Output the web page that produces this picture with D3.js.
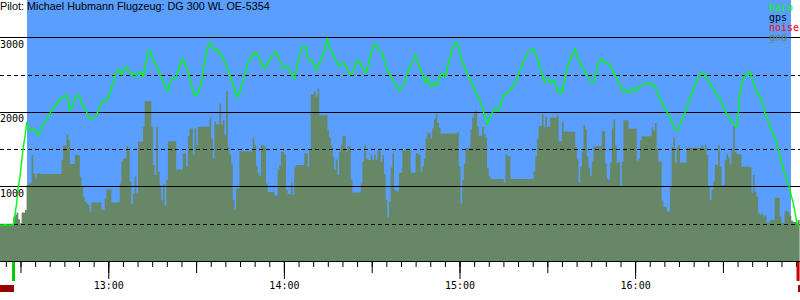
<!DOCTYPE html>
<html>
<head>
<meta charset="utf-8">
<script src="https://cdn.jsdelivr.net/npm/d3@7"></script>
<style>
  body { margin: 0; background: #fff; }
  svg { display: block; }
</style>
</head>
<body>
<div id="chart"></div>
<script>
// time window of the picture and of the flight
const viewStart = "12:23:00", viewEnd = "16:56:20";
const flightStart = "12:32:14", flightEnd = "16:53:16";
const sampleStep = 34.08; // seconds between logger samples, first sample at viewStart

const title = "Pilot: Michael Hubmann Flugzeug: DG 300 WL OE-5354";

// barometric altitude (m)
const baro = [
  482,482,482,482,482,482,482,482,490,616,772,996,1129,1330,1531,1665,1844,1800,1750,1760,
  1777,1754,1710,1687,1732,1799,1821,1866,1897,1933,1969,2022,2053,2076,2089,2134,2178,2187,2201,2210,
  2230,2150,2022,2044,2103,2165,2214,2223,2201,2120,2075,2036,2009,1933,1911,1897,1911,1933,1964,2013,
  2067,2120,2147,2169,2156,2187,2245,2326,2379,2469,2536,2567,2558,2500,2536,2580,2603,2567,2536,2513,
  2491,2513,2478,2522,2527,2536,2478,2558,2692,2803,2826,2772,2701,2669,2625,2580,2513,2469,2402,2379,
  2312,2281,2357,2433,2446,2446,2469,2536,2625,2669,2714,2647,2603,2536,2469,2366,2299,2223,2214,2245,
  2312,2379,2513,2669,2781,2870,2930,2890,2870,2817,2826,2835,2790,2759,2728,2669,2625,2567,2504,2446,
  2379,2312,2223,2201,2268,2312,2402,2469,2558,2638,2701,2736,2772,2759,2790,2772,2714,2669,2625,2580,
  2603,2647,2692,2736,2759,2781,2803,2759,2701,2656,2611,2580,2594,2611,2567,2522,2478,2446,2536,2647,
  2759,2826,2870,2861,2870,2736,2692,2701,2669,2634,2558,2594,2647,2692,2736,2826,2915,2970,2880,2820,
  2790,2750,2690,2640,2615,2635,2650,2660,2615,2570,2520,2500,2520,2575,2640,2685,2680,2640,2590,2545,
  2525,2570,2680,2770,2840,2895,2915,2860,2815,2803,2790,2700,2620,2560,2520,2475,2440,2395,2370,2330,
  2290,2312,2335,2370,2424,2522,2580,2603,2669,2728,2759,2669,2611,2580,2513,2446,2388,2455,2424,2344,
  2335,2388,2379,2357,2446,2491,2522,2478,2478,2580,2692,2745,2848,2879,2915,2937,2848,2759,2669,2625,
  2567,2513,2469,2433,2379,2312,2268,2223,2201,2134,2067,1987,1911,1835,1888,1942,1987,2022,2044,2030,
  2013,2089,2165,2223,2245,2250,2268,2299,2326,2357,2388,2446,2513,2567,2625,2683,2736,2781,2803,2826,
  2835,2848,2803,2736,2669,2580,2513,2424,2402,2446,2446,2388,2402,2424,2402,2290,2268,2290,2254,2357,
  2469,2558,2647,2714,2759,2781,2835,2759,2692,2656,2611,2567,2513,2491,2469,2433,2402,2402,2469,2580,
  2656,2692,2714,2669,2647,2656,2647,2625,2580,2522,2491,2460,2402,2357,2299,2281,2299,2277,2254,2290,
  2312,2299,2268,2290,2326,2344,2357,2370,2379,2388,2370,2379,2370,2379,2335,2290,2223,2178,2134,2089,
  2044,2000,1969,1924,1879,1821,1777,1754,1763,1821,1897,1942,1987,2044,2120,2178,2236,2290,2357,2415,
  2460,2491,2513,2522,2491,2446,2424,2388,2335,2312,2268,2254,2210,2178,2134,2076,2013,1978,1942,1911,
  1879,1844,1808,1799,1978,2223,2357,2446,2478,2504,2522,2536,2469,2402,2348,2268,2236,2210,2156,2089,
  1987,1942,1888,1808,1745,1701,1674,1598,1509,1420,1330,1241,1174,1107,1040,973,870,795,683,549,
  482,482
];

// ground elevation under the track (m)
const gnd = [
  500,500,500,500,500,500,500,500,595,620,650,560,505,650,650,683,1018,1040,1040,1420,
  1174,1110,1174,1174,1165,1165,1165,1165,1165,1165,1165,1165,1165,1165,1165,1165,1165,1353,1545,1545,
  1696,1620,1300,1300,1300,1420,1420,1420,1130,995,860,795,770,750,660,786,786,786,786,786,
  786,683,683,840,960,960,960,786,786,786,786,786,1040,1330,1375,1375,1540,1509,1062,763,
  906,1129,906,1598,1598,1598,1799,2147,2147,2147,2147,1799,1286,1152,1799,1196,1018,817,1031,741,
  1085,1607,1607,1607,1607,1607,1228,1228,1228,1228,1442,1442,1263,1674,1777,1777,1433,1777,1553,1799,
  1799,1799,1799,1799,1799,1799,1924,1643,1375,1866,1835,1835,2111,1830,1888,1687,2277,1531,1433,1308,
  817,683,973,973,1473,1473,1473,1473,1473,1473,1473,1473,1652,1553,1272,1183,1138,1553,1553,1531,
  1040,924,924,924,924,875,875,1219,1286,1464,1464,1420,951,900,900,1053,884,1254,1286,1286,
  1286,1286,1286,1442,1442,1263,1500,2236,2236,2277,2201,2312,1955,1955,1955,1955,1955,1754,1656,1553,
  1397,1219,1361,1152,1464,1553,1674,1674,1464,1540,1540,1094,920,920,920,920,920,1040,1330,1553,
  1375,1353,1353,1420,1353,1420,1353,1478,1478,1330,1420,1165,817,580,795,1254,1442,960,937,937,
  1183,1183,1486,1486,1486,1486,1486,1183,1183,1183,1442,1442,1420,1196,1272,1375,1643,1718,1718,1643,
  1777,1897,1969,1852,1790,1710,1710,1710,1710,1710,1710,1710,1710,1710,1710,1732,1272,772,1085,1308,
  1515,1515,1515,1763,1924,1978,2022,1799,1680,1680,1799,1701,1656,1241,1138,1098,1098,1098,1098,1098,
  1098,1098,1098,1049,1433,1406,1406,1098,1098,1098,1098,1098,1098,1098,1098,1098,1098,1098,1098,1098,
  1098,1200,1406,1634,1812,1812,1969,1790,1933,1799,1799,1924,1924,1924,1924,1955,1607,1607,1875,1732,
  1732,1732,1732,1732,1732,1732,1531,1361,1049,1263,1464,1821,1763,1400,1250,1143,1330,1540,1540,1540,
  1540,1540,1741,1741,1308,1107,1085,1317,1777,1902,1553,1321,1321,1004,1330,1888,1888,1888,1777,1777,
  1777,1777,1777,1344,1375,1620,1674,1674,1674,1674,1674,1674,1790,1754,1852,1509,1330,1330,808,728,
  728,661,661,996,1531,1656,1317,1522,1553,1317,1317,1317,1317,1518,1518,1518,1518,1518,1518,1518,
  1518,1518,1553,1509,1562,1420,996,817,960,1062,1286,1286,1553,1263,1018,1018,1353,1433,1384,1299,
  1486,1808,1464,1433,1433,1433,1263,1263,1263,1263,1263,1263,915,1152,928,862,647,616,640,594,
  616,513,513,549,549,549,848,848,848,594,513,513,670,670,647,603,540,527,527,513,
  549,549
];

const solidTicks = [1000, 2000, 3000];
const dashedTicks = [500, 1500, 2500];
const legendNames = ["baro", "gps", "noise", "gnd"];
const legendColors = ["#00ff00", "#000000", "#ff0000", "#668866"];

// start / landing marks under the axis
const marks = [["12:27:37", "#00cc00"], ["16:55:40", "#cc0000"]];
const noiseSpans = [["12:23:00", "12:27:47"], ["16:55:40", "16:56:20"]];

const W = 800, H = 300, bottom = 261;
const parse = d3.timeParse("%H:%M:%S");
const t0 = parse(viewStart);
const timeAt = i => new Date(t0.getTime() + i * sampleStep * 1000);

const svg = d3.select("#chart").append("svg")
    .attr("width", W)
    .attr("height", H)
    .style("font-family", "'DejaVu Sans Mono', monospace");

const x = d3.scaleTime()
    .domain([parse(viewStart), parse(viewEnd)])
    .range([0, W]);
const y = d3.scaleLinear()
    .domain([0, 3500])
    .range([bottom, 0]);

// sky during the flight
svg.append("rect")
    .attr("x", x(parse(flightStart)))
    .attr("y", 0)
    .attr("width", x(parse(flightEnd)) - x(parse(flightStart)))
    .attr("height", bottom)
    .attr("fill", "#5a9eff");

// ground
svg.append("path")
    .datum(gnd)
    .attr("fill", "#668866")
    .attr("d", d3.area()
        .x((d, i) => x(timeAt(i)))
        .y0(y(0))
        .y1(d => y(d))
        .curve(d3.curveStepAfter));

// altitude grid
svg.selectAll("line.solid")
  .data(solidTicks)
  .join("line")
    .attr("class", "solid")
    .attr("x1", 0).attr("x2", W)
    .attr("y1", d => Math.round(y(d)) + 0.5)
    .attr("y2", d => Math.round(y(d)) + 0.5)
    .attr("stroke", "#000");
svg.selectAll("line.dashed")
  .data(dashedTicks)
  .join("line")
    .attr("class", "dashed")
    .attr("x1", 0).attr("x2", W)
    .attr("y1", d => Math.round(y(d)) + 0.5)
    .attr("y2", d => Math.round(y(d)) + 0.5)
    .attr("stroke", "#000")
    .attr("stroke-dasharray", "4,3");

// baro trace
svg.append("path")
    .datum(baro)
    .attr("fill", "none")
    .attr("stroke", "#00ff00")
    .attr("stroke-width", 1.4)
    .attr("d", d3.line()
        .x((d, i) => x(timeAt(i)))
        .y(d => y(d)));

// altitude labels
svg.selectAll("text.alt")
  .data(solidTicks)
  .join("text")
    .attr("class", "alt")
    .attr("x", 0)
    .attr("y", d => y(d) + 10.5)
    .attr("font-size", 10)
    .attr("fill", "#000")
    .text(d => d);

// title
svg.append("text")
    .attr("x", 0)
    .attr("y", 9.5)
    .attr("font-family", "'Liberation Sans', Arial, sans-serif")
    .attr("font-size", 10.8)
    .attr("fill", "#000")
    .text(title);

// legend
svg.selectAll("text.legend")
  .data(legendNames)
  .join("text")
    .attr("class", "legend")
    .attr("x", 769)
    .attr("y", (d, i) => 10.5 + i * 10)
    .attr("font-size", 10)
    .attr("fill", (d, i) => legendColors[i])
    .text(d => d);

// time axis: 5 min ticks, 30 min ticks, hour ticks with labels
const axisG = svg.append("g")
    .attr("transform", `translate(0,${bottom})`);
axisG.append("g")
    .call(d3.axisBottom(x).ticks(d3.timeMinute.every(5)).tickSize(6).tickSizeOuter(0).tickFormat(""));
axisG.append("g")
    .call(d3.axisBottom(x).ticks(d3.timeMinute.every(30)).tickSize(12).tickSizeOuter(0).tickFormat(""));
axisG.append("g")
    .call(d3.axisBottom(x).ticks(d3.timeHour.every(1)).tickSize(18).tickSizeOuter(0)
        .tickFormat(d3.timeFormat("%H:%M")));
axisG.selectAll("text")
    .attr("font-family", "'DejaVu Sans Mono', monospace")
    .attr("font-size", 10)
    .attr("fill", "#000");
axisG.selectAll("path.domain").attr("stroke", "#000");
axisG.selectAll(".tick line").attr("stroke", "#000");

// start / landing marks
svg.selectAll("rect.mark")
  .data(marks)
  .join("rect")
    .attr("class", "mark")
    .attr("x", d => x(parse(d[0])) - 1.5)
    .attr("y", bottom + 1)
    .attr("width", 3)
    .attr("height", 19)
    .attr("fill", d => d[1]);
svg.selectAll("rect.noise")
  .data(noiseSpans)
  .join("rect")
    .attr("class", "noise")
    .attr("x", d => x(parse(d[0])))
    .attr("y", 285)
    .attr("width", d => x(parse(d[1])) - x(parse(d[0])))
    .attr("height", 7)
    .attr("fill", "#990000");
</script>
</body>
</html>
